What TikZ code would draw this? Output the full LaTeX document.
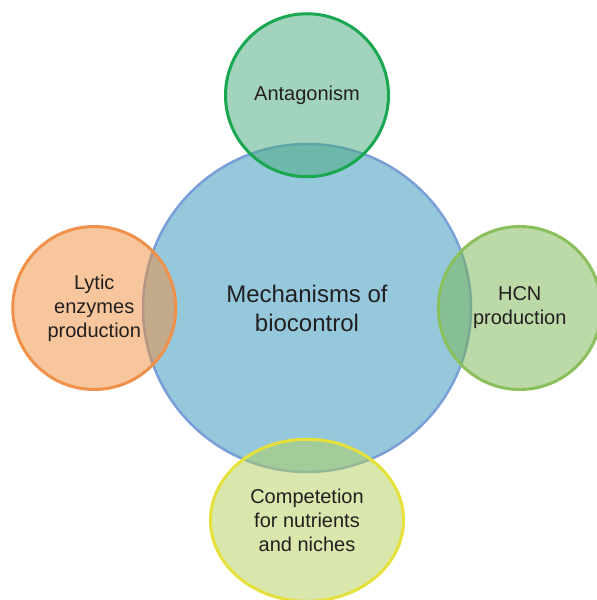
\documentclass[tikz,border=0pt]{standalone}
\usepackage{fontspec}
\setmainfont{Liberation Sans}
\usepackage{xcolor}
\usepackage{tikz}
\usetikzlibrary{positioning,shapes.geometric}
\definecolor{hubfill}{HTML}{96C8DC}
\definecolor{hubline}{HTML}{7A9FD6}
\definecolor{antfill}{HTML}{45A97B}
\definecolor{antline}{HTML}{19A84F}
\definecolor{hcnfill}{HTML}{77B551}
\definecolor{hcnline}{HTML}{8AC05B}
\definecolor{lytfill}{HTML}{EF8D39}
\definecolor{lytline}{HTML}{F0914B}
\definecolor{compfill}{HTML}{B3CF59}
\definecolor{compline}{HTML}{E5E03A}
\definecolor{label}{HTML}{231F20}

\begin{document}
\begin{tikzpicture}[
        x=1pt, y=1pt,
        hub/.style={
            circle,
            draw=hubline,
            fill=hubfill,
            line width=2.5pt,
            minimum size=328pt,
            inner sep=0pt,
            align=center,
            text=label,
            font=\fontsize{24}{29}\selectfont
        },
        mech/.style={
            circle,
            line width=3pt,
            fill opacity=0.5,
            draw opacity=1,
            text opacity=1,
            minimum size=163pt,
            inner sep=0pt,
            align=center,
            text=label,
            font=\fontsize{20}{24}\selectfont
        },
        node distance=-35.5pt
    ]

    \useasboundingbox (0,0) rectangle (597,600);

    \node[hub] (bio) at (307,292) {Mechanisms of\\biocontrol};

    % The four mechanisms overlap the central circle
    \node[mech, draw=antline, fill=antfill, above=of bio] (ant) {Antagonism};
    \node[mech, draw=hcnline, fill=hcnfill, right=of bio] (hcn) {HCN\\production};
    \node[mech, draw=lytline, fill=lytfill, left=of bio] (lyt) {Lytic\\enzymes\\production};
    \node[mech, ellipse, draw=compline, fill=compfill,
        minimum width=193pt, minimum height=162pt, below=of bio] (comp)
        {Competetion\\for nutrients\\and niches};

    \end{tikzpicture}
\end{document}
